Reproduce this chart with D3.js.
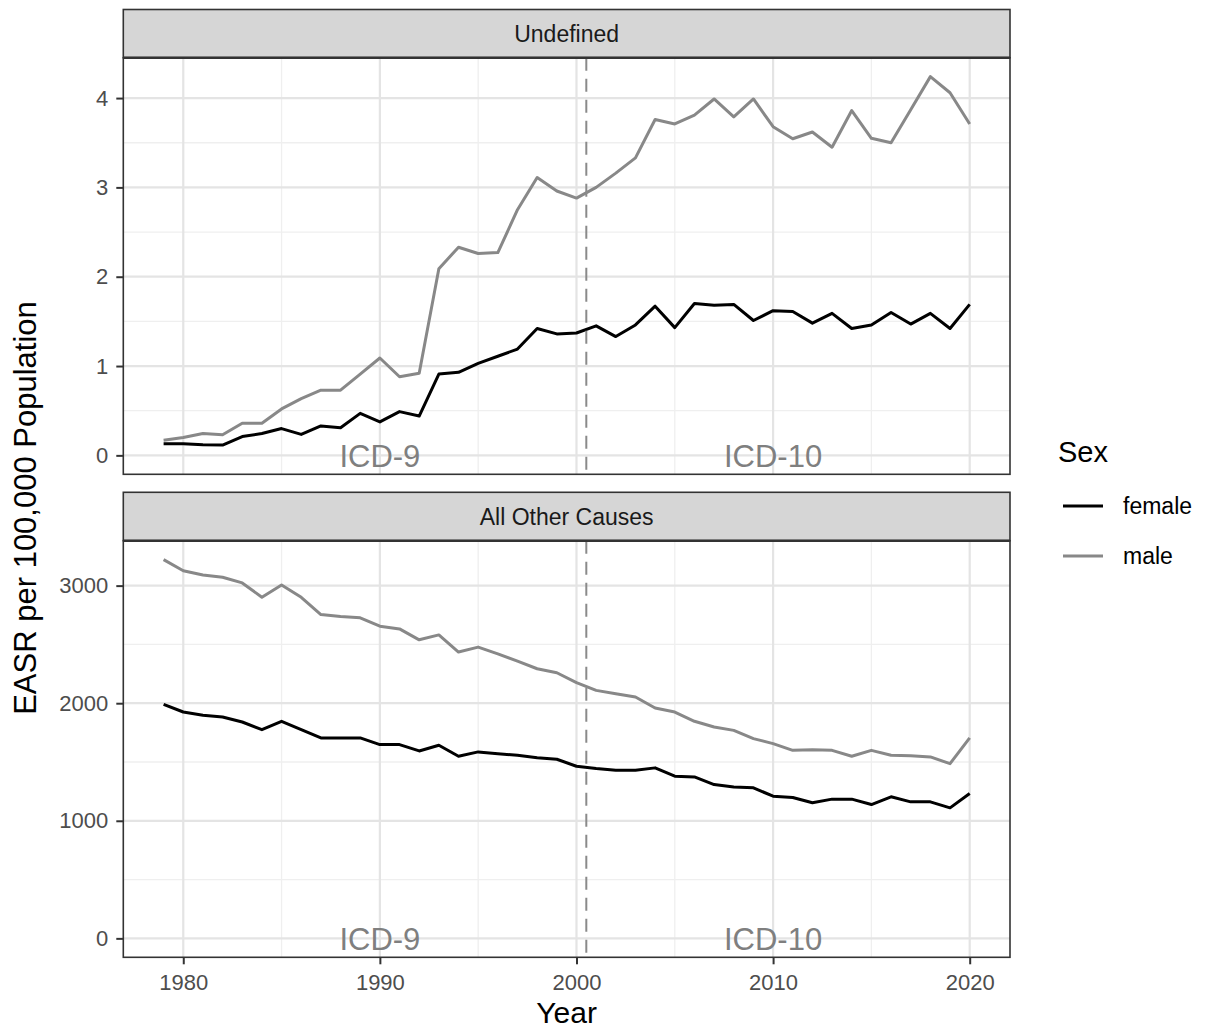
<!DOCTYPE html>
<html>
<head>
<meta charset="utf-8">
<script src="https://cdn.jsdelivr.net/npm/d3@7"></script>
<style>
  html, body { margin: 0; padding: 0; background: #ffffff; }
  svg { display: block; font-family: "Liberation Sans", Arial, Helvetica, sans-serif; }
</style>
</head>
<body>
<svg id="chart" width="1210" height="1030"></svg>
<script>
// ---------------- DATA ----------------
const years = [1979,1980,1981,1982,1983,1984,1985,1986,1987,1988,1989,1990,1991,1992,1993,1994,1995,1996,1997,1998,1999,2000,
               2001,2002,2003,2004,2005,2006,2007,2008,2009,2010,2011,2012,2013,2014,2015,2016,2017,2018,2019,2020];

const undefinedFemale = [0.13,0.13,0.12,0.115,0.21,0.245,0.30,0.235,0.33,0.31,0.47,0.375,0.49,0.44,0.91,0.93,1.03,1.11,1.19,1.42,1.36,1.37,
                         1.45,1.33,1.46,1.67,1.43,1.70,1.68,1.69,1.51,1.62,1.61,1.48,1.59,1.42,1.46,1.60,1.47,1.59,1.42,1.69];
const undefinedMale   = [0.17,0.20,0.245,0.23,0.36,0.36,0.52,0.635,0.73,0.73,0.91,1.09,0.88,0.92,2.09,2.33,2.26,2.27,2.75,3.11,2.96,2.88,
                         3.00,3.16,3.33,3.76,3.71,3.81,3.99,3.79,3.99,3.68,3.545,3.62,3.45,3.86,3.55,3.50,3.87,4.24,4.06,3.71];
const otherFemale     = [1990,1925,1897,1883,1840,1775,1846,1775,1705,1705,1705,1648,1648,1594,1642,1549,1586,1571,1557,1537,1523,1464,
                         1444,1430,1430,1450,1379,1373,1308,1288,1280,1209,1198,1153,1184,1184,1138,1204,1161,1161,1110,1232];
const otherMale       = [3221,3127,3091,3071,3023,2901,3006,2901,2754,2737,2726,2655,2632,2539,2581,2435,2477,2420,2358,2293,2259,2175,
                         2109,2081,2053,1959,1925,1846,1798,1769,1699,1656,1599,1605,1599,1549,1599,1557,1554,1543,1486,1705];

const panelTitles = ["Undefined", "All Other Causes"];
const sexes = ["female", "male"];
const xTicks = [1980, 1990, 2000, 2010, 2020];
const xMinorTicks = [1985, 1995, 2005, 2015];
const yTicksTop = [0, 1, 2, 3, 4];
const yMinorTop = [0.5, 1.5, 2.5, 3.5];
const yTicksBottom = [0, 1000, 2000, 3000];
const yMinorBottom = [500, 1500, 2500];
const icdBreak = 2000.5;
const icdLabels = [{ text: "ICD-9", year: 1990 }, { text: "ICD-10", year: 2010 }];

// ---------------- STYLE / LAYOUT ----------------
const colors = { female: "#000000", male: "#888888" };
const L = 123.3, R = 1010;
const panels = [
  { title: panelTitles[0], stripTop: 9.5, top: 57.7, bottom: 474.3,
    series: { female: undefinedFemale, male: undefinedMale },
    ticks: yTicksTop, minor: yMinorTop },
  { title: panelTitles[1], stripTop: 492.3, top: 540.7, bottom: 957.3,
    series: { female: otherFemale, male: otherMale },
    ticks: yTicksBottom, minor: yMinorBottom }
];

const svg = d3.select("#chart");

const xExt = d3.extent(years);
const xPad = (xExt[1] - xExt[0]) * 0.05;
const x = d3.scaleLinear().domain([xExt[0] - xPad, xExt[1] + xPad]).range([L, R]);

panels.forEach((p, i) => {
  const maxV = d3.max([...p.series.female, ...p.series.male]);
  const pad = maxV * 0.05;
  const y = d3.scaleLinear().domain([0 - pad, maxV + pad]).range([p.bottom, p.top]);

  const g = svg.append("g");

  g.append("rect").attr("x", L).attr("y", p.top).attr("width", R - L).attr("height", p.bottom - p.top)
    .attr("fill", "#ffffff");

  // minor gridlines
  g.selectAll(".vminor").data(xMinorTicks).enter().append("line")
    .attr("x1", d => x(d)).attr("x2", d => x(d)).attr("y1", p.top).attr("y2", p.bottom)
    .attr("stroke", "#efefef").attr("stroke-width", 1.3);
  g.selectAll(".hminor").data(p.minor).enter().append("line")
    .attr("x1", L).attr("x2", R).attr("y1", d => y(d)).attr("y2", d => y(d))
    .attr("stroke", "#efefef").attr("stroke-width", 1.3);
  // major gridlines
  g.selectAll(".vmajor").data(xTicks).enter().append("line")
    .attr("x1", d => x(d)).attr("x2", d => x(d)).attr("y1", p.top).attr("y2", p.bottom)
    .attr("stroke", "#e4e4e4").attr("stroke-width", 2.2);
  g.selectAll(".hmajor").data(p.ticks).enter().append("line")
    .attr("x1", L).attr("x2", R).attr("y1", d => y(d)).attr("y2", d => y(d))
    .attr("stroke", "#e4e4e4").attr("stroke-width", 2.2);

  // ICD labels
  g.selectAll(".icd").data(icdLabels).enter().append("text")
    .attr("x", d => x(d.year)).attr("y", y(0)).attr("dy", "0.36em")
    .attr("text-anchor", "middle").attr("font-size", 31).attr("fill", "#7f7f7f")
    .text(d => d.text);

  // lines
  const line = d3.line().x((d, k) => x(years[k])).y(d => y(d));
  ["male", "female"].forEach(s => {
    g.append("path").datum(p.series[s]).attr("d", line)
      .attr("fill", "none").attr("stroke", colors[s]).attr("stroke-width", 3)
      .attr("stroke-linejoin", "round");
  });

  // dashed ICD break
  g.append("line").attr("x1", x(icdBreak)).attr("x2", x(icdBreak)).attr("y1", p.top).attr("y2", p.bottom)
    .attr("stroke", "#8a8a8a").attr("stroke-width", 2).attr("stroke-dasharray", "13,8");

  // panel border
  g.append("rect").attr("x", L).attr("y", p.top).attr("width", R - L).attr("height", p.bottom - p.top)
    .attr("fill", "none").attr("stroke", "#333333").attr("stroke-width", 1.6);

  // strip
  g.append("rect").attr("x", L).attr("y", p.stripTop).attr("width", R - L).attr("height", p.top - p.stripTop)
    .attr("fill", "#d6d6d6").attr("stroke", "#333333").attr("stroke-width", 1.6);
  g.append("line").attr("x1", L).attr("x2", R).attr("y1", p.top).attr("y2", p.top)
    .attr("stroke", "#333333").attr("stroke-width", 2.4);
  g.append("text").attr("x", (L + R) / 2).attr("y", (p.stripTop + p.top) / 2).attr("dy", "0.36em")
    .attr("text-anchor", "middle").attr("font-size", 23).attr("fill", "#1a1a1a").text(p.title);

  // y axis
  const ya = g.append("g").attr("transform", `translate(${L},0)`)
    .call(d3.axisLeft(y).tickValues(p.ticks).tickSize(7).tickPadding(8).tickFormat(d3.format("d")));
  ya.select(".domain").remove();
  ya.selectAll(".tick line").attr("stroke", "#333333").attr("stroke-width", 2);
  ya.selectAll(".tick text").attr("font-size", 22).attr("fill", "#4d4d4d")
    .attr("font-family", "'Liberation Sans', Arial, sans-serif");

  if (i === panels.length - 1) {
    const xa = g.append("g").attr("transform", `translate(0,${p.bottom})`)
      .call(d3.axisBottom(x).tickValues(xTicks).tickSize(7).tickPadding(10).tickFormat(d3.format("d")));
    xa.select(".domain").remove();
    xa.selectAll(".tick line").attr("stroke", "#333333").attr("stroke-width", 2);
    xa.selectAll(".tick text").attr("font-size", 22).attr("fill", "#4d4d4d")
      .attr("font-family", "'Liberation Sans', Arial, sans-serif");
  }
});

// axis titles
svg.append("text").attr("x", (L + R) / 2).attr("y", 1023).attr("text-anchor", "middle")
  .attr("font-size", 30).attr("fill", "#000").text("Year");
svg.append("text").attr("transform", `translate(36,508) rotate(-90)`).attr("text-anchor", "middle")
  .attr("font-size", 31).attr("fill", "#000").text("EASR per 100,000 Population");

// legend
const lg = svg.append("g");
lg.append("text").attr("x", 1058).attr("y", 462).attr("font-size", 29).attr("fill", "#000").text("Sex");
sexes.forEach((s, k) => {
  const cy = 506 + k * 50;
  lg.append("line").attr("x1", 1063).attr("x2", 1103).attr("y1", cy).attr("y2", cy)
    .attr("stroke", colors[s]).attr("stroke-width", 3);
  lg.append("text").attr("x", 1123).attr("y", cy).attr("dy", "0.36em")
    .attr("font-size", 23).attr("fill", "#000").text(s);
});
</script>
</body>
</html>
